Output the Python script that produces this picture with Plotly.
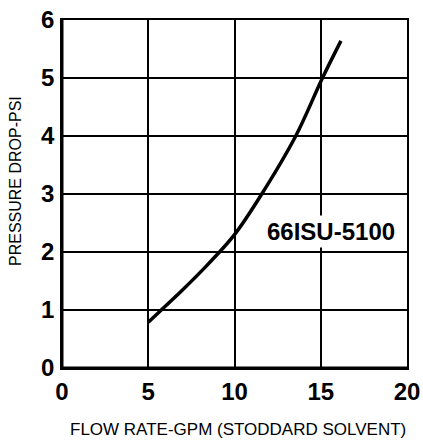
import plotly.graph_objects as go

flow_gpm = [5.0, 5.68, 7.0, 8.5, 10.0, 11.58, 13.55, 15.1, 16.17]
pressure_psi = [0.79, 0.98, 1.35, 1.8, 2.3, 3.0, 4.0, 5.0, 5.64]
x_ticks = [0, 5, 10, 15, 20]
y_ticks = [0, 1, 2, 3, 4, 5, 6]
label_text = "66ISU-5100"
x_title = "FLOW RATE-GPM (STODDARD SOLVENT)"
y_title = "PRESSURE DROP-PSI"

FONT = "Liberation Sans, Arial, sans-serif"

W, H = 423, 440
L, R, T, B = 62, 16, 20, 72
pw, ph = W - L - R, H - T - B

fig = go.Figure()
fig.add_trace(go.Scatter(x=flow_gpm, y=pressure_psi, mode="lines",
                         line=dict(color="black", width=3.5, shape="spline", smoothing=1.0),
                         hoverinfo="skip", showlegend=False))

fig.add_annotation(x=15.6, y=2.35, text=label_text, showarrow=False,
                   xanchor="center", yanchor="middle",
                   font=dict(family=FONT, size=24, color="black", weight="bold"),
                   bgcolor="white", xref="x", yref="y", borderpad=2)

fig.add_annotation(x=(15 - L) / pw, y=(H - B - 181) / ph, xref="paper", yref="paper",
                   xanchor="center", yanchor="middle",
                   text=y_title, textangle=-90, showarrow=False,
                   font=dict(family=FONT, size=16, color="black"))
fig.add_annotation(x=(238 - L) / pw, y=(H - B - 429) / ph, xref="paper", yref="paper",
                   xanchor="center", yanchor="middle",
                   text=x_title, showarrow=False,
                   font=dict(family=FONT, size=17, color="black"))

fig.update_xaxes(range=[0, 20], tickvals=x_ticks, showgrid=True, gridcolor="black", gridwidth=1.5,
                 zeroline=False, showline=True, linecolor="black", linewidth=1.5, mirror=True,
                 ticks="", ticklabelstandoff=1, automargin=False,
                 tickfont=dict(family=FONT, size=24, color="black", weight="bold"))
fig.update_yaxes(range=[0, 6], tickvals=y_ticks, showgrid=True, gridcolor="black", gridwidth=1.5,
                 zeroline=False, showline=True, linecolor="black", linewidth=1.5, mirror=True,
                 ticks="", ticklabelstandoff=1, automargin=False,
                 tickfont=dict(family=FONT, size=24, color="black", weight="bold"))

# thicker left and bottom axes
fig.add_shape(type="line", xref="paper", yref="paper", x0=0, x1=1, y0=0, y1=0,
              line=dict(color="black", width=3))
fig.add_shape(type="line", xref="paper", yref="paper", x0=0, x1=0, y0=0, y1=1,
              line=dict(color="black", width=3))

fig.update_layout(width=W, height=H, margin=dict(l=L, r=R, t=T, b=B, autoexpand=False),
                  plot_bgcolor="white", paper_bgcolor="white")

fig.write_html("out.html", config={"displayModeBar": False},
               post_script="document.body.style.margin='0';document.body.style.overflow='hidden';")
